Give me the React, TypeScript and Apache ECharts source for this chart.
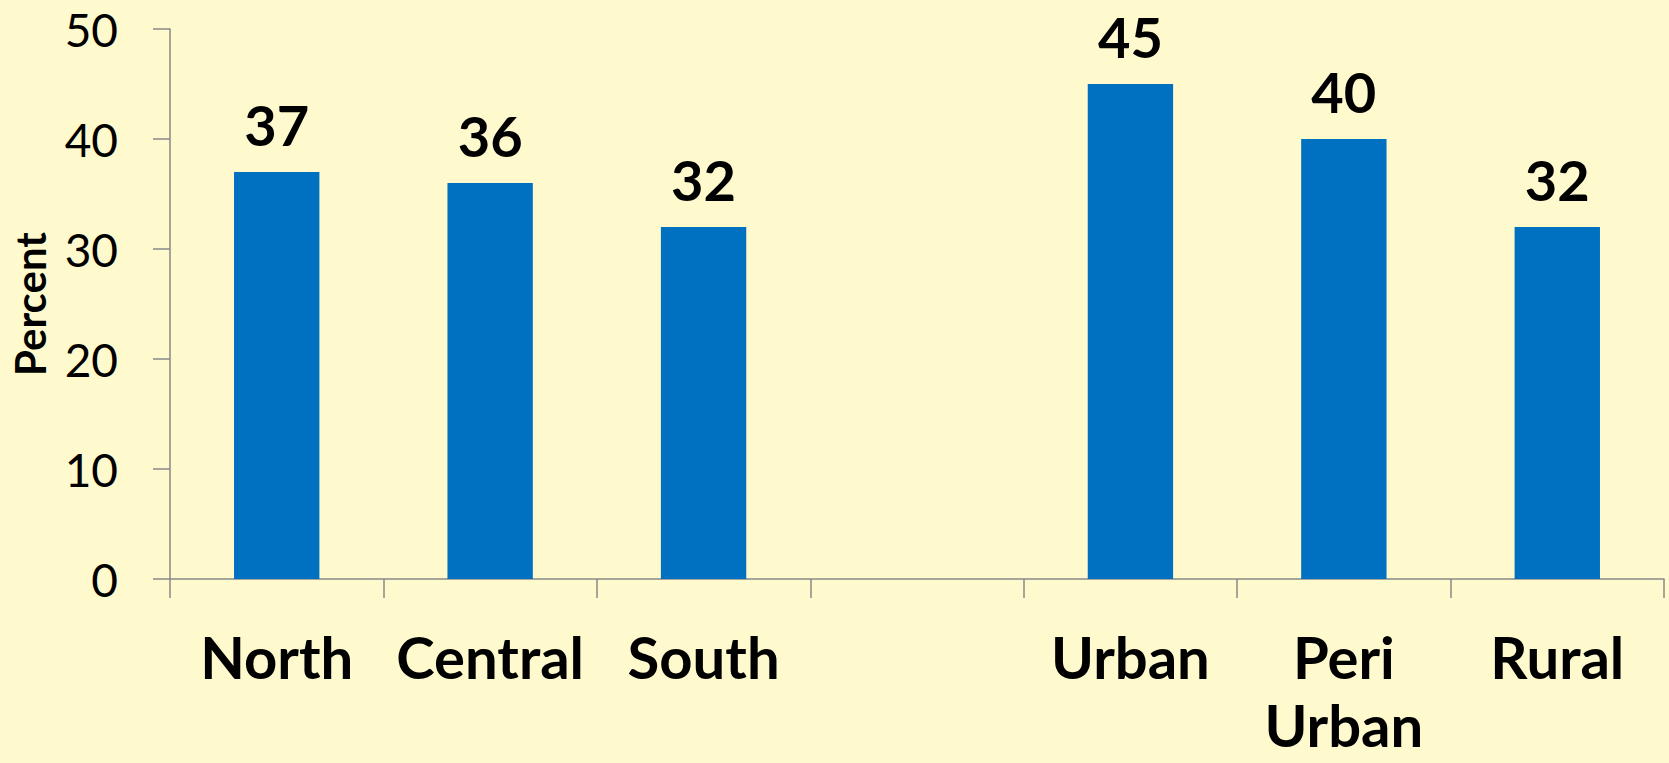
import React, { useEffect, useRef } from "react";
import * as echarts from "echarts";

const categories: string[] = ["North", "Central", "South", "", "Urban", "Peri\nUrban", "Rural"];
const percentValues: (number | null)[] = [37, 36, 32, null, 45, 40, 32];
const yTicks = { min: 0, max: 50, interval: 10 };
const yAxisTitle = "Percent";

export default function App() {
  const ref = useRef<HTMLDivElement>(null);
  useEffect(() => {
    document.body.style.margin = "0";
    const chart = echarts.init(ref.current!, undefined, { renderer: "svg" });
    const axisColor = "#898989";
    chart.setOption({
      animation: false,
      backgroundColor: "#FFFACD",
      grid: { left: 170, right: 5, top: 29, bottom: 184, containLabel: false, outerBoundsMode: "none" },
      xAxis: {
        type: "category",
        data: categories,
        axisLine: { show: true, lineStyle: { color: axisColor, width: 1.5 } },
        axisTick: { show: true, length: 19, alignWithLabel: false, lineStyle: { color: axisColor, width: 1.5 } },
        axisLabel: {
          interval: 0,
          margin: 43,
          fontFamily: "Lato",
          fontWeight: "bold",
          fontSize: 58,
          lineHeight: 68,
          color: "#000",
        },
      },
      yAxis: {
        type: "value",
        min: yTicks.min,
        max: yTicks.max,
        interval: yTicks.interval,
        name: yAxisTitle,
        nameLocation: "middle",
        nameRotate: 90,
        nameGap: 119,
        nameTextStyle: { fontFamily: "Lato", fontWeight: "bold", fontSize: 42, color: "#000" },
        splitLine: { show: false },
        axisLine: { show: true, lineStyle: { color: axisColor, width: 1.5 } },
        axisTick: { show: true, length: 17, lineStyle: { color: axisColor, width: 1.5 } },
        axisLabel: { margin: 52, fontFamily: "Lato", fontSize: 46, color: "#000" },
      },
      series: [
        {
          type: "bar",
          data: percentValues,
          barWidth: "40%",
          itemStyle: { color: "#0070C0" },
          label: {
            show: true,
            position: "top",
            distance: 20,
            fontFamily: "Lato",
            fontWeight: "bold",
            fontSize: 56,
            color: "#000",
          },
        },
      ],
    });
    return () => chart.dispose();
  }, []);
  return <div ref={ref} style={{ width: 1669, height: 763 }} />;
}
